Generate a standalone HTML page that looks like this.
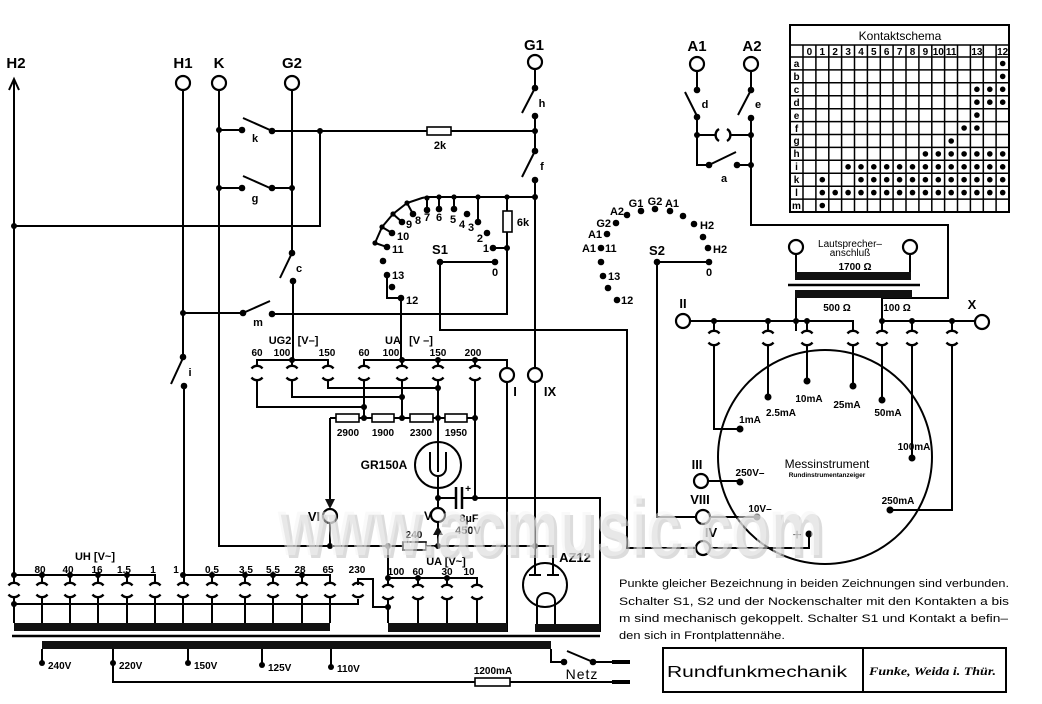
<!DOCTYPE html>
<html><head><meta charset="utf-8">
<style>
html,body{margin:0;padding:0;background:#fff;}
svg{display:block;}
text{font-family:"Liberation Sans",sans-serif;fill:#000;}
.b{font-weight:bold;}
.r{font-family:"Liberation Serif",serif;font-weight:bold;}
</style></head><body>
<svg width="1042" height="704" viewBox="0 0 1042 704" xmlns="http://www.w3.org/2000/svg">
<defs>
<g id="sk" fill="none" stroke="#000" stroke-width="2.4"><path d="M-5.5,-4.5 A7,7 0 0 1 5.5,-4.5"/><path d="M-5.5,4.5 A7,7 0 0 0 5.5,4.5"/></g>
</defs>
<rect width="1042" height="704" fill="#fff"/>

<!-- wiring -->
<g fill="none" stroke="#000" stroke-width="2">
<path d="M14,79 V583 M9,90 L14,79 L19,90"/>
<path d="M14,226 H320 V131"/>
<path d="M183,90 V357 M183,358 L171,384 M184,386 V583"/>
<path d="M219,90 V546 H535"/>
<path d="M292,90 V253"/>
<path d="M219,130 H242 M243,118 L270,130 M272,131 H535"/>
<path d="M219,188 H242 M243,176 L270,188 M272,188 H292"/>
<path d="M292,253 L280,278 M293,281 V360"/>
<path d="M183,313 H243 M243,313 L270,301 M272,314 H507 V197"/>
<path d="M535,69 V88 M535,88 L522,113 M535,116 V151 M535,151 L522,177 M535,180 V368 M535,382 V546"/>
<path d="M535,197 H427 L422,198 L407,203 L393,214 L382,227 L375,243 L387,247"/>
<path d="M478,197 V222 M454,197 V209 M439,197 V209 M427,198 V210 M407,203 L413,214 M393,214 L402,222 M382,227 L392,233"/>
<path d="M493,248 H507"/>
<path d="M387,275 V298 H401 V360"/>
<path d="M440,262 H495 M440,262 V330 H627 V548 H696"/>
<path d="M657,262 H709 M657,262 V517 H696"/>
<path d="M697,71 V90 M685,92 L697,116 M697,117 V165 H709 M709,165 L736,152 M737,165 H751 M697,135 H716 M730,135 H751"/>
<path d="M719,129 A7,7 0 0 0 719,141 M727,129 A7,7 0 0 1 727,141" stroke-width="2.4"/>
<path d="M751,71 V90 M751,90 L738,115 M751,118 V225 H948 V298 H882 V331"/>
<path d="M796,254 V272 M910,254 V272 M796,298 V331"/>
<path d="M788,285 H920" stroke-width="2.5"/>
<path d="M690,321 H853 V331 M882,321 H975 M714,321 V331 M768,321 V331 M807,321 V331 M912,321 V331 M952,321 V331"/>
<path d="M714,345 V429 H740 M768,345 V397 M807,345 V381 M853,345 V386 M882,345 V400 M912,345 V458 M952,345 V510 H890"/>
<path d="M708,481 H740 M710,517 H757 M710,548 H809 V534"/>
<path d="M257,366 V360 H328 V366 M292,360 V366"/>
<path d="M364,366 V360 H507 V368 M402,360 V366 M438,360 V366 M475,360 V366"/>
<path d="M257,380 V407 H364 M292,380 V397 H402 M328,380 V388 H438 M364,380 V418 M402,380 V418 M438,380 V442 M475,380 V498"/>
<path d="M330,418 H475"/>
<path d="M330,418 V500 M330,523 V546"/>
<path d="M438,442 V472 M430,452 V468 A8,8 0 0 0 446,468 V452 M438,476 V508"/>
<path d="M438,498 H456 M462,498 H600 V632"/>
<path d="M456,487 V509 M462,487 V509" stroke-width="2.5"/>
<path d="M438,522 V546"/>
<path d="M507,382 V632"/>
<path d="M388,546 V585 M388,578 H477 V585 M418,578 V585 M447,578 V585 M388,599 V623 M418,599 V623 M447,599 V623 M477,599 V623"/>
<path d="M358,585 V579 H373 V607 H388 M358,599 V604 H14"/>
<path d="M14,575 H155 V583 M42,575 V583 M70,575 V583 M98,575 V583 M127,575 V583"/>
<path d="M183,575 H330 V583 M212,575 V583 M245,575 V583 M273,575 V583 M302,575 V583"/>
<path d="M14,597 V623 M42,597 V623 M70,597 V623 M98,597 V623 M127,597 V623 M155,597 V623 M183,597 V623 M212,597 V623 M245,597 V623 M273,597 V623 M302,597 V623 M330,597 V623"/>
<path d="M12,636 H600" stroke-width="2.5"/>
<path d="M42,649 V663 M113,649 V682 H630 M188,649 V663 M262,649 V665 M331,649 V667"/>
<path d="M551,649 V662 H564 M567,651 L593,662 M593,662 H630"/>
<path d="M612,662 H630 M612,682 H630" stroke-width="4"/>
<path d="M535,546 V575 M535,546 H553 V575 M529,575 H541 M547,575 H559"/>
<circle cx="545" cy="585" r="22"/>
<path d="M537,624 V601 A9,8 0 0 1 555,601 V624"/>
<circle cx="825" cy="457" r="107"/>
<circle cx="438" cy="465" r="23"/>
</g>

<!-- bars -->
<g fill="#111">
<rect x="14" y="623" width="316" height="8"/>
<rect x="388" y="623" width="119" height="9"/>
<rect x="535" y="624" width="65" height="8"/>
<rect x="42" y="641" width="509" height="8"/>
<rect x="795" y="272" width="116" height="8"/>
<rect x="795" y="290" width="117" height="8"/>
<path d="M325,499 L335,499 L330,509 Z"/>
<path d="M438,526 L433,535 L443,535 Z"/>
</g>

<!-- resistors -->
<g fill="#fff" stroke="#000" stroke-width="1.6">
<rect x="427" y="127" width="24" height="8"/>
<rect x="503" y="211" width="9" height="21"/>
<rect x="336" y="414" width="23" height="8"/>
<rect x="372" y="414" width="22" height="8"/>
<rect x="410" y="414" width="23" height="8"/>
<rect x="445" y="414" width="22" height="8"/>
<rect x="403" y="542" width="23" height="8"/>
<rect x="475" y="678" width="35" height="8"/>
</g>

<!-- terminals -->
<g fill="#fff" stroke="#000" stroke-width="2.2">
<circle cx="183" cy="83" r="7"/><circle cx="219" cy="83" r="7"/><circle cx="292" cy="83" r="7"/>
<circle cx="535" cy="62" r="7"/><circle cx="697" cy="64" r="7"/><circle cx="751" cy="64" r="7"/>
<circle cx="535" cy="375" r="7"/><circle cx="507" cy="375" r="7"/><circle cx="330" cy="516" r="7"/>
<circle cx="438" cy="515" r="7"/><circle cx="683" cy="321" r="7"/><circle cx="982" cy="322" r="7"/>
<circle cx="796" cy="247" r="7"/><circle cx="910" cy="247" r="7"/>
<circle cx="701" cy="481" r="7"/><circle cx="703" cy="517" r="7"/><circle cx="703" cy="548" r="7"/>
</g>

<!-- sockets -->
<use href="#sk" x="714" y="338"/><use href="#sk" x="768" y="338"/><use href="#sk" x="807" y="338"/>
<use href="#sk" x="853" y="338"/><use href="#sk" x="882" y="338"/><use href="#sk" x="912" y="338"/><use href="#sk" x="952" y="338"/>
<use href="#sk" x="257" y="373"/><use href="#sk" x="292" y="373"/><use href="#sk" x="328" y="373"/>
<use href="#sk" x="364" y="373"/><use href="#sk" x="402" y="373"/><use href="#sk" x="438" y="373"/><use href="#sk" x="475" y="373"/>
<use href="#sk" x="14" y="590"/><use href="#sk" x="42" y="590"/><use href="#sk" x="70" y="590"/><use href="#sk" x="98" y="590"/>
<use href="#sk" x="127" y="590"/><use href="#sk" x="155" y="590"/><use href="#sk" x="183" y="590"/><use href="#sk" x="212" y="590"/>
<use href="#sk" x="245" y="590"/><use href="#sk" x="273" y="590"/><use href="#sk" x="302" y="590"/><use href="#sk" x="330" y="590"/>
<use href="#sk" x="358" y="590"/>
<use href="#sk" x="388" y="592"/><use href="#sk" x="418" y="592"/><use href="#sk" x="447" y="592"/><use href="#sk" x="477" y="592"/>

<!-- dots -->
<g fill="#000">
<circle cx="14" cy="226" r="3"/><circle cx="219" cy="130" r="3"/><circle cx="242" cy="130" r="3.3"/><circle cx="272" cy="131" r="3.3"/>
<circle cx="320" cy="131" r="3"/><circle cx="219" cy="188" r="3"/><circle cx="242" cy="188" r="3.3"/><circle cx="272" cy="188" r="3.3"/>
<circle cx="292" cy="188" r="3"/><circle cx="292" cy="253" r="3.3"/><circle cx="293" cy="281" r="3.3"/><circle cx="183" cy="313" r="3"/>
<circle cx="243" cy="313" r="3.3"/><circle cx="272" cy="314" r="3.3"/><circle cx="183" cy="357" r="3.3"/><circle cx="184" cy="386" r="3.3"/>
<circle cx="535" cy="88" r="3.3"/><circle cx="535" cy="116" r="3.3"/><circle cx="535" cy="131" r="3"/><circle cx="535" cy="151" r="3.3"/>
<circle cx="535" cy="180" r="3.3"/><circle cx="535" cy="197" r="3"/>
<circle cx="507" cy="197" r="2.6"/><circle cx="478" cy="197" r="2.6"/><circle cx="454" cy="197" r="2.6"/><circle cx="439" cy="197" r="2.6"/>
<circle cx="427" cy="198" r="2.6"/><circle cx="407" cy="203" r="2.6"/><circle cx="393" cy="214" r="2.6"/><circle cx="382" cy="227" r="2.6"/><circle cx="375" cy="243" r="2.6"/>
<circle cx="493" cy="248" r="3.3"/><circle cx="495" cy="262" r="3.3"/><circle cx="487" cy="233" r="3.3"/><circle cx="478" cy="222" r="3.3"/>
<circle cx="467" cy="214" r="3.3"/><circle cx="454" cy="209" r="3.3"/><circle cx="439" cy="209" r="3.3"/><circle cx="427" cy="210" r="3.3"/>
<circle cx="413" cy="214" r="3.3"/><circle cx="402" cy="222" r="3.3"/><circle cx="392" cy="233" r="3.3"/><circle cx="387" cy="247" r="3.3"/>
<circle cx="383" cy="261" r="3.3"/><circle cx="387" cy="275" r="3.3"/><circle cx="392" cy="287" r="3.3"/><circle cx="401" cy="298" r="3.3"/>
<circle cx="507" cy="248" r="3"/><circle cx="440" cy="262" r="3.3"/>
<circle cx="627" cy="215" r="3.3"/><circle cx="641" cy="211" r="3.3"/><circle cx="655" cy="209" r="3.3"/><circle cx="670" cy="211" r="3.3"/>
<circle cx="683" cy="216" r="3.3"/><circle cx="694" cy="224" r="3.3"/><circle cx="703" cy="237" r="3.3"/><circle cx="708" cy="248" r="3.3"/>
<circle cx="709" cy="262" r="3.3"/><circle cx="616" cy="223" r="3.3"/><circle cx="607" cy="234" r="3.3"/><circle cx="601" cy="248" r="3.3"/>
<circle cx="601" cy="262" r="3.3"/><circle cx="603" cy="276" r="3.3"/><circle cx="608" cy="288" r="3.3"/><circle cx="617" cy="300" r="3.3"/>
<circle cx="657" cy="262" r="3.3"/>
<circle cx="697" cy="90" r="3.3"/><circle cx="697" cy="117" r="3.3"/><circle cx="697" cy="135" r="3"/><circle cx="709" cy="165" r="3.3"/>
<circle cx="737" cy="165" r="3.3"/><circle cx="751" cy="90" r="3.3"/><circle cx="751" cy="118" r="3.3"/><circle cx="751" cy="135" r="3"/><circle cx="751" cy="165" r="3"/>
<circle cx="714" cy="321" r="3"/><circle cx="768" cy="321" r="3"/><circle cx="796" cy="321" r="3"/><circle cx="807" cy="321" r="3"/>
<circle cx="882" cy="321" r="3"/><circle cx="912" cy="321" r="3"/><circle cx="952" cy="321" r="3"/>
<circle cx="740" cy="429" r="3.5"/><circle cx="768" cy="397" r="3.5"/><circle cx="807" cy="381" r="3.5"/><circle cx="853" cy="386" r="3.5"/>
<circle cx="882" cy="400" r="3.5"/><circle cx="912" cy="458" r="3.5"/><circle cx="890" cy="510" r="3.5"/><circle cx="740" cy="482" r="3.5"/>
<circle cx="757" cy="517" r="3.5"/><circle cx="809" cy="534" r="3.5"/>
<circle cx="292" cy="360" r="3"/><circle cx="402" cy="360" r="3"/><circle cx="438" cy="360" r="3"/><circle cx="475" cy="360" r="3"/>
<circle cx="364" cy="407" r="3"/><circle cx="402" cy="397" r="3"/><circle cx="438" cy="388" r="3"/><circle cx="364" cy="418" r="3"/>
<circle cx="402" cy="418" r="3"/><circle cx="438" cy="418" r="3"/><circle cx="475" cy="418" r="3"/><circle cx="438" cy="498" r="3"/>
<circle cx="475" cy="498" r="3"/><circle cx="330" cy="546" r="3"/><circle cx="388" cy="546" r="3"/><circle cx="438" cy="546" r="3"/><circle cx="535" cy="546" r="3"/>
<circle cx="388" cy="578" r="3"/><circle cx="418" cy="578" r="3"/><circle cx="447" cy="578" r="3"/><circle cx="388" cy="607" r="3"/>
<circle cx="14" cy="575" r="3"/><circle cx="42" cy="575" r="3"/><circle cx="70" cy="575" r="3"/><circle cx="98" cy="575" r="3"/><circle cx="127" cy="575" r="3"/>
<circle cx="183" cy="575" r="3"/><circle cx="212" cy="575" r="3"/><circle cx="245" cy="575" r="3"/><circle cx="273" cy="575" r="3"/><circle cx="302" cy="575" r="3"/>
<circle cx="14" cy="604" r="3"/>
<circle cx="42" cy="663" r="3"/><circle cx="113" cy="663" r="3"/><circle cx="188" cy="663" r="3"/><circle cx="262" cy="665" r="3"/><circle cx="331" cy="667" r="3"/>
<circle cx="564" cy="662" r="3.3"/><circle cx="593" cy="662" r="3.3"/>
</g>

<!-- main labels -->
<g class="b" font-size="15" text-anchor="middle">
<text x="16" y="68">H2</text><text x="183" y="68">H1</text><text x="219" y="68">K</text><text x="292" y="68">G2</text>
<text x="534" y="50">G1</text><text x="697" y="51">A1</text><text x="752" y="51">A2</text>
</g>
<g class="b" font-size="11" text-anchor="middle">
<text x="255" y="142">k</text><text x="255" y="202">g</text><text x="299" y="272">c</text><text x="258" y="326">m</text>
<text x="190" y="376">i</text><text x="542" y="107">h</text><text x="542" y="170">f</text><text x="705" y="108">d</text>
<text x="758" y="108">e</text><text x="724" y="182">a</text>
<text x="440" y="149">2k</text><text x="523" y="226">6k</text>
</g>
<g class="b" font-size="11">
<text x="489" y="252" text-anchor="end">1</text><text x="495" y="276" text-anchor="middle">0</text>
<text x="483" y="242" text-anchor="end">2</text><text x="471" y="231" text-anchor="middle">3</text><text x="462" y="228" text-anchor="middle">4</text>
<text x="453" y="223" text-anchor="middle">5</text><text x="439" y="221" text-anchor="middle">6</text><text x="427" y="221" text-anchor="middle">7</text>
<text x="418" y="224" text-anchor="middle">8</text><text x="409" y="228" text-anchor="middle">9</text><text x="397" y="240">10</text>
<text x="392" y="253">11</text><text x="392" y="279">13</text><text x="406" y="304">12</text>
<text x="440" y="254" text-anchor="middle" font-size="13">S1</text><text x="657" y="255" text-anchor="middle" font-size="13">S2</text>
<text x="617" y="215" text-anchor="middle">A2</text><text x="636" y="207" text-anchor="middle">G1</text><text x="655" y="205" text-anchor="middle">G2</text>
<text x="672" y="207" text-anchor="middle">A1</text><text x="700" y="229">H2</text><text x="713" y="253">H2</text>
<text x="709" y="276" text-anchor="middle">0</text><text x="611" y="227" text-anchor="end">G2</text><text x="602" y="238" text-anchor="end">A1</text>
<text x="596" y="252" text-anchor="end">A1</text><text x="605" y="252">11</text><text x="608" y="280">13</text><text x="621" y="304">12</text>
</g>

<!-- transformer / meter labels -->
<g font-size="10" text-anchor="middle" class="b">
<text x="850" y="247" font-weight="normal">Lautsprecher–</text>
<text x="850" y="256" font-weight="normal">anschluß</text>
<text x="855" y="270">1700 Ω</text>
<text x="837" y="311">500 Ω</text><text x="897" y="311">100 Ω</text>
<text x="750" y="423">1mA</text><text x="781" y="416">2.5mA</text><text x="809" y="402">10mA</text>
<text x="847" y="408">25mA</text><text x="888" y="416">50mA</text><text x="914" y="450">100mA</text>
<text x="898" y="504">250mA</text><text x="750" y="476">250V–</text><text x="760" y="512">10V–</text>
</g>
<text x="797" y="540" font-size="16" text-anchor="middle">+</text>
<text x="827" y="468" font-size="12" text-anchor="middle">Messinstrument</text>
<text x="827" y="477" font-size="6.5" class="b" text-anchor="middle">Rundinstrumentanzeiger</text>
<g class="r" font-size="13" text-anchor="middle">
<text x="683" y="308">II</text><text x="972" y="309">X</text><text x="697" y="469">III</text>
<text x="700" y="504">VIII</text><text x="711" y="537">IV</text><text x="515" y="396">I</text><text x="550" y="396">IX</text>
<text x="314" y="521">VI</text>
</g>

<!-- middle labels -->
<g class="b" font-size="10" text-anchor="middle">
<text x="280" y="344" font-size="11">UG2</text><text x="308" y="344" font-size="11">[V–]</text>
<text x="393" y="344" font-size="11">UA</text><text x="421" y="344" font-size="11">[V –]</text>
<text x="257" y="356">60</text><text x="282" y="356">100</text><text x="327" y="356">150</text>
<text x="364" y="356">60</text><text x="391" y="356">100</text><text x="438" y="356">150</text><text x="473" y="356">200</text>
<text x="348" y="436">2900</text><text x="383" y="436">1900</text><text x="421" y="436">2300</text><text x="456" y="436">1950</text>
<text x="414" y="538">240</text>
<text x="468" y="492">+</text>
<text x="469" y="522" font-size="11">8µF</text><text x="468" y="534" font-size="11">450V</text>
<text x="446" y="565" font-size="11">UA [V~]</text>
<text x="396" y="575">100</text><text x="418" y="575">60</text><text x="447" y="575">30</text><text x="469" y="575">10</text>
</g>
<text x="384" y="469" class="b" font-size="12" text-anchor="middle">GR150A</text>
<text x="428" y="520" class="b" font-size="12" text-anchor="middle">V</text>
<text x="575" y="562" class="b" font-size="13" text-anchor="middle">AZ12</text>

<!-- UH labels -->
<g class="b" font-size="10" text-anchor="middle">
<text x="95" y="560" font-size="11">UH [V~]</text>
<text x="40" y="573">80</text><text x="68" y="573">40</text><text x="97" y="573">16</text><text x="124" y="573">1.5</text>
<text x="153" y="573">1</text><text x="176" y="573">1</text><text x="212" y="573">0.5</text><text x="246" y="573">3.5</text>
<text x="273" y="573">5.5</text><text x="300" y="573">28</text><text x="328" y="573">65</text><text x="357" y="573">230</text>
</g>
<g class="b" font-size="10">
<text x="48" y="669">240V</text><text x="119" y="669">220V</text><text x="194" y="669">150V</text>
<text x="268" y="671">125V</text><text x="337" y="672">110V</text>
<text x="493" y="674" text-anchor="middle">1200mA</text>
</g>
<text x="582" y="679" font-size="14" letter-spacing="1" text-anchor="middle">Netz</text>

<!-- Kontaktschema -->
<g fill="none" stroke="#000">
<rect x="790" y="25" width="219" height="187" stroke-width="2"/>
<path stroke-width="1.5" d="M790,45 H1009 M790,57 H1009 M790,69.9 H1009 M790,82.8 H1009 M790,95.8 H1009 M790,108.7 H1009 M790,121.6 H1009 M790,134.5 H1009 M790,147.4 H1009 M790,160.3 H1009 M790,173.3 H1009 M790,186.2 H1009 M790,199.1 H1009"/>
<path stroke-width="1.5" d="M803,45V212 M815.9,45V212 M828.8,45V212 M841.6,45V212 M854.5,45V212 M867.4,45V212 M880.3,45V212 M893.1,45V212 M906,45V212 M918.9,45V212 M931.8,45V212 M944.6,45V212 M957.5,45V212 M970.4,45V212 M983.3,45V212 M996.1,45V212"/>
</g>
<text x="900" y="40" font-size="12" text-anchor="middle">Kontaktschema</text>
<g class="b" font-size="10" text-anchor="middle">
<text x="809.4" y="55">0</text><text x="822.3" y="55">1</text><text x="835.2" y="55">2</text><text x="848.1" y="55">3</text>
<text x="861" y="55">4</text><text x="873.8" y="55">5</text><text x="886.7" y="55">6</text><text x="899.6" y="55">7</text>
<text x="912.5" y="55">8</text><text x="925.4" y="55">9</text><text x="938.3" y="55">10</text><text x="951.2" y="55">11</text>
<text x="976.9" y="55">13</text><text x="1002.7" y="55">12</text>
<text x="796.5" y="67">a</text><text x="796.5" y="80">b</text><text x="796.5" y="93">c</text><text x="796.5" y="106">d</text>
<text x="796.5" y="119">e</text><text x="796.5" y="132">f</text><text x="796.5" y="144">g</text><text x="796.5" y="157">h</text>
<text x="796.5" y="170">i</text><text x="796.5" y="183">k</text><text x="796.5" y="196">l</text><text x="796.5" y="209">m</text>
</g>
<g fill="#000">
<circle cx="1002.7" cy="63.5" r="2.8"/>
<circle cx="1002.7" cy="76.4" r="2.8"/>
<circle cx="976.9" cy="89.3" r="2.8"/><circle cx="989.8" cy="89.3" r="2.8"/><circle cx="1002.7" cy="89.3" r="2.8"/>
<circle cx="976.9" cy="102.2" r="2.8"/><circle cx="989.8" cy="102.2" r="2.8"/><circle cx="1002.7" cy="102.2" r="2.8"/>
<circle cx="976.9" cy="115.1" r="2.8"/>
<circle cx="964.1" cy="128" r="2.8"/><circle cx="976.9" cy="128" r="2.8"/>
<circle cx="951.2" cy="141" r="2.8"/>
<circle cx="925.4" cy="153.9" r="2.8"/><circle cx="938.3" cy="153.9" r="2.8"/><circle cx="951.2" cy="153.9" r="2.8"/><circle cx="964.1" cy="153.9" r="2.8"/><circle cx="976.9" cy="153.9" r="2.8"/><circle cx="989.8" cy="153.9" r="2.8"/><circle cx="1002.7" cy="153.9" r="2.8"/>
<circle cx="848.1" cy="166.8" r="2.8"/><circle cx="861" cy="166.8" r="2.8"/><circle cx="873.8" cy="166.8" r="2.8"/><circle cx="886.7" cy="166.8" r="2.8"/><circle cx="899.6" cy="166.8" r="2.8"/><circle cx="912.5" cy="166.8" r="2.8"/><circle cx="925.4" cy="166.8" r="2.8"/><circle cx="938.3" cy="166.8" r="2.8"/><circle cx="951.2" cy="166.8" r="2.8"/><circle cx="964.1" cy="166.8" r="2.8"/><circle cx="976.9" cy="166.8" r="2.8"/><circle cx="989.8" cy="166.8" r="2.8"/><circle cx="1002.7" cy="166.8" r="2.8"/>
<circle cx="822.3" cy="179.7" r="2.8"/><circle cx="861" cy="179.7" r="2.8"/><circle cx="873.8" cy="179.7" r="2.8"/><circle cx="886.7" cy="179.7" r="2.8"/><circle cx="899.6" cy="179.7" r="2.8"/><circle cx="912.5" cy="179.7" r="2.8"/><circle cx="925.4" cy="179.7" r="2.8"/><circle cx="938.3" cy="179.7" r="2.8"/><circle cx="951.2" cy="179.7" r="2.8"/><circle cx="964.1" cy="179.7" r="2.8"/><circle cx="976.9" cy="179.7" r="2.8"/><circle cx="989.8" cy="179.7" r="2.8"/><circle cx="1002.7" cy="179.7" r="2.8"/>
<circle cx="822.3" cy="192.6" r="2.8"/><circle cx="835.2" cy="192.6" r="2.8"/><circle cx="848.1" cy="192.6" r="2.8"/><circle cx="861" cy="192.6" r="2.8"/><circle cx="873.8" cy="192.6" r="2.8"/><circle cx="886.7" cy="192.6" r="2.8"/><circle cx="899.6" cy="192.6" r="2.8"/><circle cx="912.5" cy="192.6" r="2.8"/><circle cx="925.4" cy="192.6" r="2.8"/><circle cx="938.3" cy="192.6" r="2.8"/><circle cx="951.2" cy="192.6" r="2.8"/><circle cx="964.1" cy="192.6" r="2.8"/><circle cx="976.9" cy="192.6" r="2.8"/><circle cx="989.8" cy="192.6" r="2.8"/><circle cx="1002.7" cy="192.6" r="2.8"/>
<circle cx="822.3" cy="205.5" r="2.8"/>
</g>

<!-- notes -->
<g font-size="11">
<text x="619" y="587" textLength="390" lengthAdjust="spacingAndGlyphs">Punkte gleicher Bezeichnung in beiden Zeichnungen sind verbunden.</text>
<text x="619" y="605" textLength="390" lengthAdjust="spacingAndGlyphs">Schalter S1, S2 und der Nockenschalter mit den Kontakten a bis</text>
<text x="619" y="622" textLength="389" lengthAdjust="spacingAndGlyphs">m sind mechanisch gekoppelt.  Schalter S1 und Kontakt a befin–</text>
<text x="619" y="639" textLength="166" lengthAdjust="spacingAndGlyphs">den sich in Frontplattennähe.</text>
</g>
<rect x="663" y="648" width="343" height="44" fill="none" stroke="#000" stroke-width="2"/>
<path d="M863,648 V692" stroke="#000" stroke-width="2"/>
<text x="667" y="677" font-size="16" textLength="180" lengthAdjust="spacingAndGlyphs">Rundfunkmechanik</text>
<text x="869" y="675" font-size="12" font-style="italic" font-weight="bold" textLength="127" lengthAdjust="spacingAndGlyphs" style="font-family:'Liberation Serif',serif">Funke, Weida i. Thür.</text>

<!-- watermark -->
<text x="281" y="558" font-size="82" font-weight="bold" style="fill:#c4c4c4" fill-opacity="0.6" textLength="545" lengthAdjust="spacingAndGlyphs">www.acmusic.com</text>
<text x="278" y="555" font-size="82" font-weight="bold" style="fill:#f4f4f4" fill-opacity="0.5" textLength="545" lengthAdjust="spacingAndGlyphs">www.acmusic.com</text>
</svg>
</body></html>
